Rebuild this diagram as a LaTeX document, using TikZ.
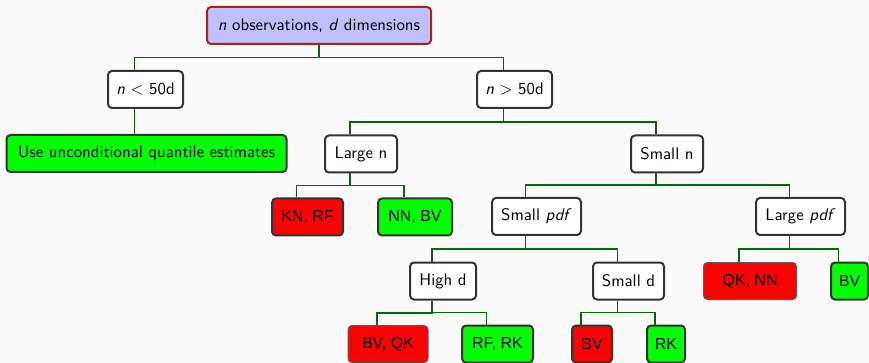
\documentclass[tikz,border=0pt]{standalone}
\usepackage{fontspec}
\usepackage{graphicx}
\newfontfamily\leaffont{Liberation Sans}
\usetikzlibrary{calc}
\newcommand{\bigtxt}[1]{\scalebox{1.68}{\sffamily\fontsize{10}{12}\selectfont #1}}
\definecolor{bgc}{RGB}{250,250,250}
\definecolor{rootfill}{RGB}{192,192,255}
\definecolor{rootdraw}{RGB}{160,40,20}
\definecolor{boxdraw}{RGB}{51,51,51}
\definecolor{conc}{RGB}{10,100,10}
\definecolor{leafred}{RGB}{255,0,0}
\definecolor{leafgreen}{RGB}{0,255,0}
\tikzset{
  base/.style={rounded corners=4pt, minimum height=37pt, inner xsep=4pt, inner ysep=2pt, text=black},
  inner/.style={base, draw=boxdraw, line width=2pt, fill=white},
  rootbox/.style={base, draw=rootdraw, line width=2pt, fill=rootfill},
  redleaf/.style={base, draw=boxdraw, line width=2pt, fill=leafred, font=\leaffont\fontsize{16}{19}\selectfont},
  greenleaf/.style={base, draw=boxdraw, line width=2pt, fill=leafgreen, font=\leaffont\fontsize{16}{19}\selectfont},
  thinleaf/.style={line width=1pt, draw=boxdraw!80},
  conn/.style={draw=conc, line width=1.6pt},
  elbow/.style={to path={let \p1=(\tikztostart), \p2=(\tikztotarget) in
    (\p1) -- (\x1,{(\y1+\y2)/2}) -- (\x2,{(\y1+\y2)/2}) -- (\p2)}}
}
\begin{document}
\begin{tikzpicture}[x=1pt,y=-1pt]
\fill[bgc] (0,0) rectangle (869,363);
\useasboundingbox (0,0) rectangle (869,363);
% nodes
\node[rootbox, minimum width=224pt] (root) at (319,25.5) {\bigtxt{\textit{n} observations, \textit{d} dimensions}};
\node[inner, minimum width=75pt] (lt) at (145.5,89.5) {\bigtxt{\textit{n} $<$ 50d}};
\node[inner, minimum width=75pt] (gt) at (514.5,89.5) {\bigtxt{\textit{n} $>$ 50d}};
\node[base, draw=boxdraw, line width=2pt, fill=leafgreen, minimum width=280pt] (uncond) at (146.5,153.5) {\bigtxt{Use unconditional quantile estimates}};
\node[inner, minimum width=72pt] (largen) at (361,154) {\bigtxt{Large n}};
\node[inner, minimum width=72pt] (smalln) at (667,154) {\bigtxt{Small n}};
\node[redleaf, minimum width=71pt] (knrf) at (307.5,217) {KN, RF};
\node[greenleaf, minimum width=74pt] (nnbv) at (415,217) {NN, BV};
\node[inner, minimum width=89pt] (smallpdf) at (536.5,216.5) {\bigtxt{Small \textit{pdf}}};
\node[inner, minimum width=89pt] (largepdf) at (800.5,216.5) {\bigtxt{Large \textit{pdf}}};
\node[inner, minimum width=66pt] (highd) at (443,281) {\bigtxt{High d}};
\node[inner, minimum width=71pt] (smalld) at (628.5,281) {\bigtxt{Small d}};
\node[redleaf, thinleaf, minimum width=93pt] (qknn) at (750,281) {QK, NN};
\node[greenleaf, minimum width=37pt] (bvr) at (849.5,281) {BV};
\node[redleaf, thinleaf, minimum width=80pt] (bvqk) at (388,344) {BV, QK};
\node[greenleaf, minimum width=71pt] (rfrk) at (497.5,344) {RF, RK};
\node[redleaf, minimum width=40pt] (bvl) at (592,344) {BV};
\node[greenleaf, minimum width=38pt] (rk) at (666,344) {RK};
% connectors
\draw[conn] (root.south) to[elbow] ([xshift=-11pt]lt.north)
            (root.south) to[elbow] ([xshift=-11pt]gt.north);
\draw[conn] ([xshift=-11pt]lt.south) -- ([xshift=-11pt]lt.south |- uncond.north);
\draw[conn] ([xshift=-11pt]gt.south) to[elbow] ([xshift=-11pt]largen.north)
            ([xshift=-11pt]gt.south) to[elbow] ([xshift=-11pt]smalln.north);
\draw[conn] ([xshift=-11pt]largen.south) to[elbow] ([xshift=-11pt]knrf.north)
            ([xshift=-11pt]largen.south) to[elbow] ([xshift=-11pt]nnbv.north);
\draw[conn] ([xshift=-11pt]smalln.south) to[elbow] ([xshift=-11pt]smallpdf.north)
            ([xshift=-11pt]smalln.south) to[elbow] ([xshift=-11pt]largepdf.north);
\draw[conn] ([xshift=-11pt]smallpdf.south) to[elbow] ([xshift=-11pt]highd.north)
            ([xshift=-11pt]smallpdf.south) to[elbow] ([xshift=-11pt]smalld.north);
\draw[conn] ([xshift=-11pt]largepdf.south) to[elbow] ([xshift=-11pt]qknn.north)
            ([xshift=-11pt]largepdf.south) to[elbow] ([xshift=-11pt]bvr.north);
\draw[conn] ([xshift=-11pt]highd.south) to[elbow] ([xshift=-11pt]bvqk.north)
            ([xshift=-11pt]highd.south) to[elbow] ([xshift=-11pt]rfrk.north);
\draw[conn] ([xshift=-11pt]smalld.south) to[elbow] ([xshift=-11pt]bvl.north)
            ([xshift=-11pt]smalld.south) to[elbow] ([xshift=-11pt]rk.north);
\end{tikzpicture}
\end{document}
